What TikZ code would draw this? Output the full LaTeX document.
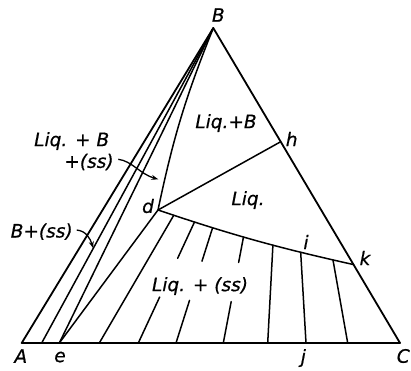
\documentclass[tikz,border=0pt]{standalone}
\usepackage{fontspec}
\setmainfont{DejaVu Sans}[ItalicFeatures={FakeBold=0.6}]
\usetikzlibrary{calc,arrows.meta}
\begin{document}
\begin{tikzpicture}[x=1pt,y=-1pt,
  thin line/.style={line width=1.5pt, line cap=round, line join=round},
  edge/.style={line width=1.8pt, line join=round, line cap=round},
  lab/.style={font=\fontsize{18.5}{20}\selectfont\itshape, inner sep=0pt},
  arr/.style={line width=1.3pt, -{Stealth[length=7pt,width=5pt]}}]
\useasboundingbox (0,0) rectangle (411,370);
% corners and points
\coordinate (A) at (21.7,343);
\coordinate (B) at (213.3,28);
\coordinate (C) at (400,343);
\coordinate (a1) at (41.7,343);
\coordinate (e) at (59.3,343);
\coordinate (d) at (158,210);
\coordinate (h) at ($(B)!0.361!(C)$);
\coordinate (k) at ($(B)!0.751!(C)$);
\coordinate (b1) at (99.3,343);
\coordinate (b2) at (138.3,343);
\coordinate (b3) at (176,343);
\coordinate (b4) at (223.3,343);
\coordinate (b5) at (267.7,343);
\coordinate (j) at (306,343);
\coordinate (b7) at (347.7,343);
% outer triangle
\draw[edge] (A) -- (B) -- (C) -- cycle;
% lines from B
\draw[thin line] (a1) -- (B);
\draw[thin line] (e) -- (B);
\draw[thin line] (e) -- (d);
\draw[thin line] (d) to[bend left=5] (B);
% liquid boundaries
\draw[thin line] (d) -- (h);
\draw[thin line] (d) to[bend right=3]
  coordinate[pos=0.072] (t1)
  coordinate[pos=0.173] (t2)
  coordinate[pos=0.267] (t3)
  coordinate[pos=0.436] (t4)
  coordinate[pos=0.600] (t5)
  coordinate[pos=0.749] (i)
  coordinate[pos=0.908] (t7) (k);
% tie lines
\draw[thin line] (t1) -- (b1);
\draw[thin line] (t2) -- ($(t2)!0.30!(b2)$);
\draw[thin line] ($(t2)!0.62!(b2)$) -- (b2);
\draw[thin line] (t3) -- ($(t3)!0.29!(b3)$);
\draw[thin line] ($(t3)!0.63!(b3)$) -- (b3);
\draw[thin line] (t4) -- ($(t4)!0.24!(b4)$);
\draw[thin line] ($(t4)!0.61!(b4)$) -- (b4);
\draw[thin line] (t5) -- (b5);
\draw[thin line] (i) -- (j);
\draw[thin line] (t7) -- (b7);
% arrows
\coordinate (p1) at (118.3,159.3);
\coordinate (q1) at (158.3,179.3);
\draw[arr] (p1) .. controls (132,161) and (140,174) .. (q1);
\coordinate (p2) at (76.7,230);
\coordinate (q2) at (93.3,248.3);
\draw[arr] (p2) .. controls (86,231) and (90,238) .. (q2);
% labels
\node[lab] (lB) at (218.3,15) {B};
\node[lab] (lLB) at (226,123) {Liq.+B};
\node[lab] (lh) at (291.7,139) {h};
\node[lab] (lLiq) at (248,200) {Liq.};
\node[lab] (ld) at (148,206) {d};
\node[lab] (li) at (306,242) {i};
\node[lab] (lk) at (365,258) {k};
\node[lab] (lLss) at (200,286) {Liq. + (ss)};
\node[lab] (lLB2) at (71.7,141) {Liq. + B};
\node[lab] (lss2) at (89,162) {+(ss)};
\node[lab] (lBss) at (41.7,231.7) {B+(ss)};
\node[lab] (lA) at (20.8,356) {A};
\node[lab] (le) at (60,357) {e};
\node[lab] (lj) at (303.3,358) {j};
\node[lab] (lC) at (403.3,356) {C};
\end{tikzpicture}
\end{document}
